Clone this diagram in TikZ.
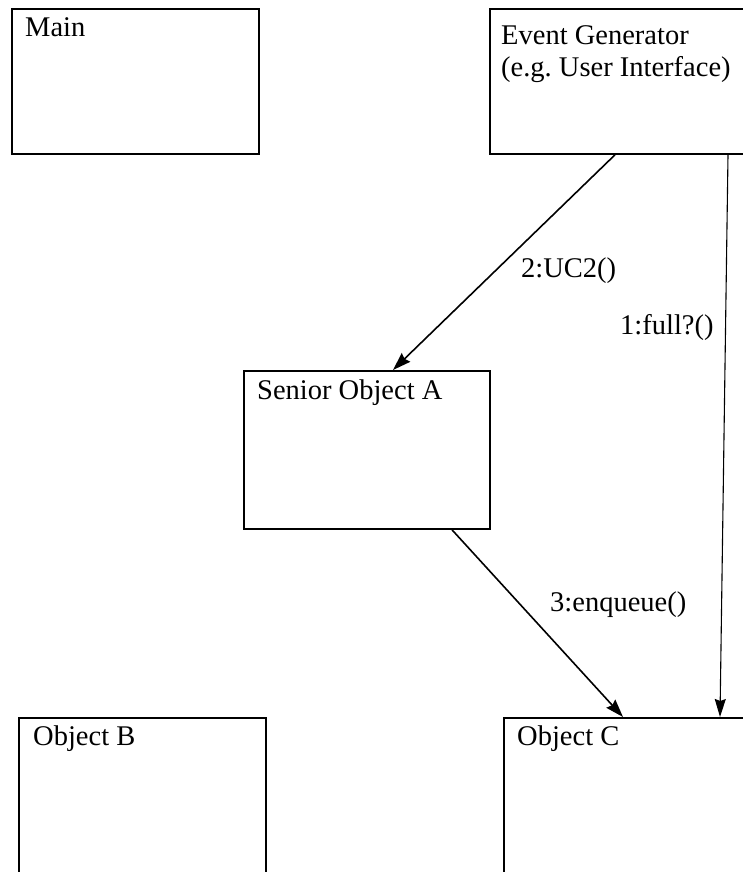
\documentclass[tikz,border=0pt]{standalone}
\usepackage{fontspec}
\setmainfont{Liberation Serif}
\usetikzlibrary{arrows.meta}
\frenchspacing
\begin{document}
\begin{tikzpicture}[x=1pt,y=-1pt,
  box/.style={draw=black, line width=1.8pt, rectangle, inner sep=0pt, anchor=north west},
  txt/.style={inner sep=0pt, anchor=base west, font=\fontsize{28.5}{33}\selectfont},
  arr/.style={draw=black, line width=1.6pt, -{Stealth[length=18pt,width=12pt,inset=2pt]}},
  thinarr/.style={draw=black, line width=1.1pt, -{Stealth[length=18pt,width=11pt,inset=2pt]}}]
\useasboundingbox (0,0) rectangle (743,872);
\clip (0,0) rectangle (743,872);
% boxes
\node[box, minimum width=247pt, minimum height=145pt] (main) at (11,8) {};
\node[box, minimum width=260pt, minimum height=145pt] (eg) at (489,8) {};
\node[box, minimum width=246pt, minimum height=158pt] (sa) at (243,370) {};
\node[box, minimum width=247pt, minimum height=170pt] (ob) at (18,717) {};
\node[box, minimum width=260pt, minimum height=170pt] (oc) at (503,717) {};
% texts
\node[txt] (tmain) at (25,37) {Main};
\node[txt] (teg1) at (501,45) {Event Generator};
\node[txt] (teg2) at (501,77) {(e.g. User Interface)};
\node[txt] (tsa) at (257,399) {Senior Object A};
\node[txt] (tob) at (33,745) {Object B};
\node[txt] (toc) at (517,745) {Object C};
% connectors
\draw[arr] ([xshift=126pt]eg.south west) -- ([xshift=150pt]sa.north west);
\draw[thinarr] ([xshift=239pt]eg.south west) -- ([xshift=217pt]oc.north west);
\draw[arr] ([xshift=209pt]sa.south west) -- ([xshift=120pt]oc.north west);
% labels
\node[txt] (l2) at (521,277) {2:UC2()};
\node[txt] (l1) at (620,334) {1:full?()};
\node[txt] (l3) at (550,611) {3:enqueue()};
\end{tikzpicture}
\end{document}
